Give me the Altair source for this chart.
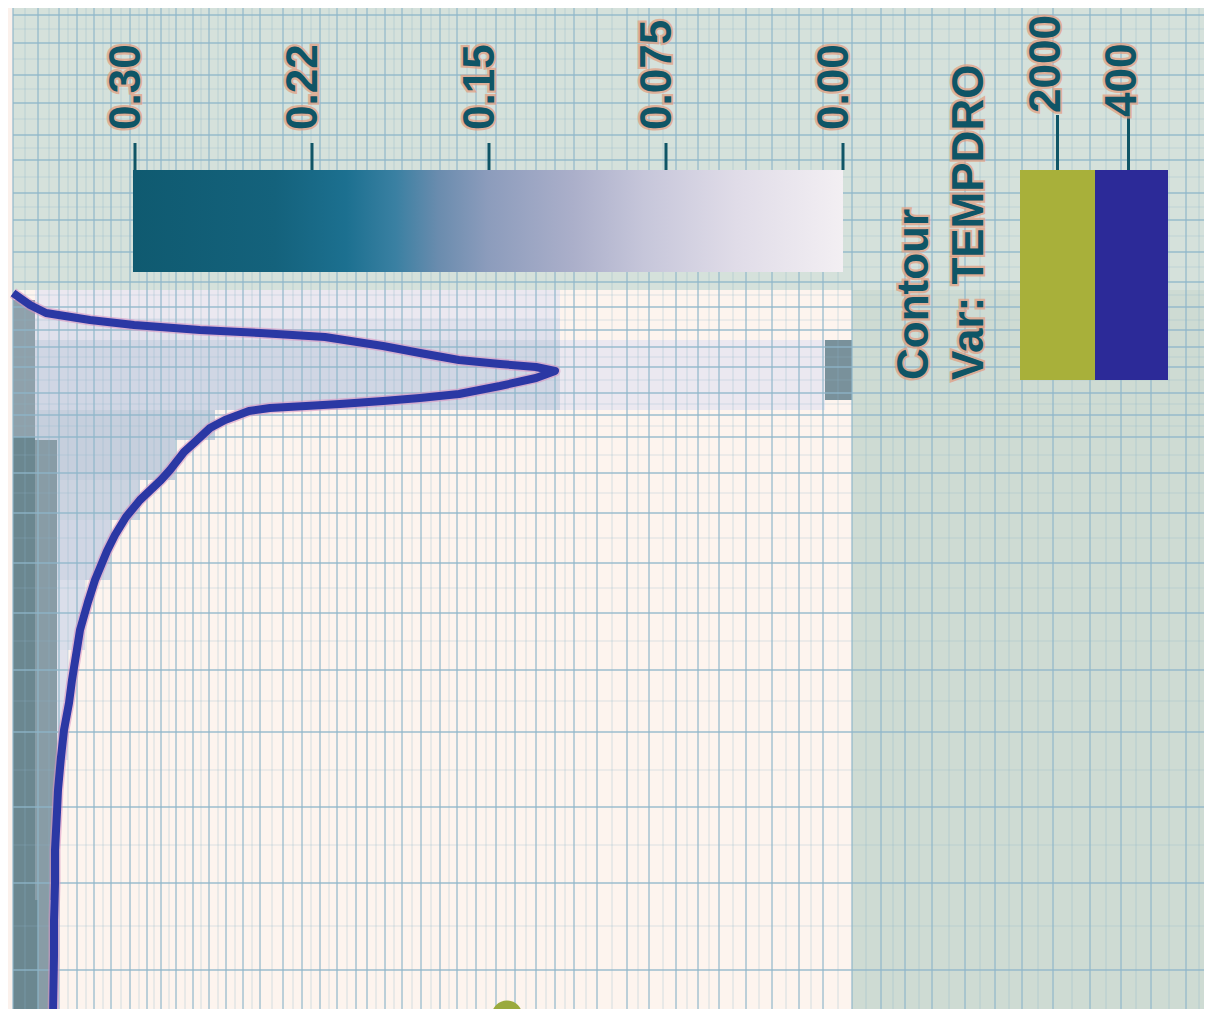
import altair as alt
import pandas as pd

# ---------------- values ----------------
# colour bar (pseudocolour variable), ticks from left to right
cbar_ticks = [0.30, 0.225, 0.15, 0.075, 0.00]
cbar_labels = ["0.30", "0.22", "0.15", "0.075", "0.00"]

# contour legend
contour_title = ["Contour", "Var: TEMPDRO"]
contour_levels = ["2000", "400"]

# TEMPDRO = 400 contour, mesh coordinates (u across, v down)
contour_u = [13, 30, 46, 90, 134, 200, 260, 325, 383, 420, 459, 500, 536, 555,
             536, 500, 459, 420, 383, 340, 306, 270, 249, 225, 210, 195, 184, 170,
             161, 140, 126, 115, 107, 95, 88, 80, 77, 72, 69, 64, 61, 58, 57, 55,
             55, 54, 54, 53]
contour_v = [293, 305, 313, 320, 325, 330, 333, 337, 346, 353, 360, 364, 367, 371,
             378, 386, 394, 398, 401, 404, 406, 408, 411, 420, 428, 442, 452, 470,
             480, 500, 517, 535, 551, 580, 602, 630, 649, 680, 703, 730, 757, 790,
             812, 850, 884, 920, 956, 1017]

# TEMPDRO = 2000 contour fragment
c2000_u = [507]
c2000_v = [1016]

# shaded field cells: extents and pseudocolour value
cell_u0 = [13, 13, 35, 38, 35, 35, 35, 560, 35, 57, 57, 57, 57, 57, 825]
cell_u1 = [35, 38, 57, 50, 560, 560, 560, 825, 215, 175, 140, 110, 85, 68, 852]
cell_v0 = [300, 437, 437, 900, 290, 318, 340, 340, 410, 440, 480, 520, 580, 650, 340]
cell_v1 = [437, 1017, 900, 1017, 318, 340, 410, 410, 440, 480, 520, 580, 650, 760, 400]
cell_val = [0.20, 0.30, 0.22, 0.22, 0.03, 0.05, 0.08, 0.03, 0.10, 0.10, 0.09,
            0.08, 0.06, 0.05, 0.26]

# mesh lines (main and faint sub-lines)
mesh_u = [13, 38, 59, 77, 94, 111, 130, 147, 161, 176, 193, 209, 226, 243, 260,
          283, 302, 320, 337, 356, 367, 385, 402, 421, 440, 457, 476, 496, 515,
          536, 555, 574, 597, 627, 649, 676, 698, 719, 746, 772, 799, 823, 852,
          881, 905, 932, 965, 995, 1022, 1053, 1090, 1121, 1151, 1186]
mesh_u_fine = [25, 49, 68, 86, 103, 121, 139, 154, 169, 185, 201, 218, 235, 252,
               272, 293, 311, 329, 347, 376, 394, 412, 431, 449, 467, 486, 506, 526,
               546, 565, 586, 612, 638, 663, 687, 709, 733, 759, 786, 811, 838, 866,
               893, 919, 949, 980, 1009, 1038, 1072, 1106, 1136, 1169, 1199]
mesh_v = [15, 43, 75, 103, 135, 160, 193, 220, 252, 282, 307, 330, 347, 367, 393,
          415, 437, 473, 513, 563, 613, 670, 732, 807, 883, 970]
mesh_v_fine = [29, 59, 89, 119, 148, 177, 207, 236, 267, 295, 320, 357, 380, 404,
               426, 455, 493, 538, 588, 641, 701, 770, 845, 926]

# ---------------- layout / style ----------------
W, H = 1196, 1001
XS = alt.Scale(domain=[8, 1204], nice=False, zero=False)
YS = alt.Scale(domain=[8, 1009], nice=False, zero=False, reverse=True)
TEAL = "#0f5566"
HALO = "#e39a7c"
FONT = "Liberation Sans"
FS = 44
GRID = "#8db6ca"

CB_L, CB_R, CB_T, CB_B = 133, 843, 170, 272
TICK_TOP = 143
LABEL_BASE = 130
SW_L, SW_M, SW_R, SW_T, SW_B = 1020, 1095, 1168, 170, 380


def X(f):
    return alt.X(f, type="quantitative", scale=XS, axis=None)


def Y(f):
    return alt.Y(f, type="quantitative", scale=YS, axis=None)


# backgrounds
bg = pd.DataFrame({
    "x0": [0, 13, 13, 13], "x1": [1212, 1212, 1212, 852],
    "y0": [0, 3, 290, 290], "y1": [1017, 290, 1017, 1017],
    "part": ["margin", "upper", "lower", "field"],
})
bg_layer = alt.Chart(bg).mark_rect().encode(
    x=X("x0"), x2="x1", y=Y("y0"), y2="y1",
    color=alt.Color("part:N", legend=None,
                    scale=alt.Scale(domain=["margin", "upper", "lower", "field"],
                                    range=["#fbf1ec", "#d5e1db", "#cedbd3", "#fdf4ee"])),
)

cells = pd.DataFrame({"x0": cell_u0, "x1": cell_u1, "y0": cell_v0, "y1": cell_v1,
                      "val": cell_val})
cell_layer = alt.Chart(cells).mark_rect().encode(
    x=X("x0"), x2="x1", y=Y("y0"), y2="y1",
    color=alt.Color("val:Q", legend=None,
                    scale=alt.Scale(domain=[0, 0.03, 0.06, 0.10, 0.20, 0.30],
                                    range=["#fcf3ee", "#ebe8f0", "#dadeea", "#c6cfdd",
                                           "#8fa1ab", "#6b8790"])),
)

vlines = pd.DataFrame({"u": mesh_u, "y0": [0] * len(mesh_u), "y1": [1017] * len(mesh_u)})
hlines = pd.DataFrame({"v": mesh_v, "x0": [13] * len(mesh_v), "x1": [1212] * len(mesh_v)})
vlines_f = pd.DataFrame({"u": mesh_u_fine, "y0": [0] * len(mesh_u_fine),
                         "y1": [1017] * len(mesh_u_fine)})
hlines_f = pd.DataFrame({"v": mesh_v_fine, "x0": [13] * len(mesh_v_fine),
                         "x1": [1212] * len(mesh_v_fine)})
vgrid_f = alt.Chart(vlines_f).mark_rule(color=GRID, strokeWidth=1.2, opacity=0.3).encode(
    x=X("u"), y=Y("y0"), y2="y1")
hgrid_f = alt.Chart(hlines_f).mark_rule(color=GRID, strokeWidth=1.2, opacity=0.3).encode(
    y=Y("v"), x=X("x0"), x2="x1")
vgrid = alt.Chart(vlines).mark_rule(color=GRID, strokeWidth=1.8, opacity=0.65).encode(
    x=X("u"), y=Y("y0"), y2="y1")
hgrid = alt.Chart(hlines).mark_rule(color=GRID, strokeWidth=1.8, opacity=0.65).encode(
    y=Y("v"), x=X("x0"), x2="x1")

# colour bar
stops = [(0.0, "#0f5a70"), (0.2, "#14627c"), (0.3, "#1c7090"), (0.37, "#3a80a2"),
         (0.43, "#6a8cae"), (0.5, "#8c9cbc"), (0.62, "#abafca"), (0.72, "#c6c6da"),
         (0.85, "#e0dce8"), (1.0, "#f3eff3")]
grad = alt.LinearGradient(gradient="linear",
                          stops=[alt.GradientStop(color=c, offset=o) for o, c in stops],
                          x1=0, x2=1, y1=0, y2=0)
cbar = alt.Chart(pd.DataFrame({"x0": [CB_L], "x1": [CB_R], "y0": [CB_T], "y1": [CB_B]})
                 ).mark_rect(fill=grad).encode(x=X("x0"), x2="x1", y=Y("y0"), y2="y1")

tick_x = [CB_L + 2 + (0.30 - t) / 0.30 * (CB_R - CB_L - 2) for t in cbar_ticks]
cb_ticks = pd.DataFrame({"x": tick_x, "y0": [TICK_TOP] * 5, "y1": [CB_T] * 5})
cb_tick_layer = alt.Chart(cb_ticks).mark_rule(color=TEAL, strokeWidth=3).encode(
    x=X("x"), y=Y("y0"), y2="y1")

# contour legend swatches
sw = pd.DataFrame({"x0": [SW_L, SW_M], "x1": [SW_M, SW_R], "y0": [SW_T] * 2,
                   "y1": [SW_B] * 2, "level": contour_levels})
sw_layer = alt.Chart(sw).mark_rect().encode(
    x=X("x0"), x2="x1", y=Y("y0"), y2="y1",
    color=alt.Color("level:N", legend=None,
                    scale=alt.Scale(domain=contour_levels, range=["#a8b03a", "#2c2a98"])),
)
sw_ticks = pd.DataFrame({"x": [(SW_L + SW_M) / 2, (SW_M + SW_R) / 2 - 3],
                         "y0": [115, 115], "y1": [SW_T, SW_T]})
sw_tick_layer = alt.Chart(sw_ticks).mark_rule(color=TEAL, strokeWidth=3).encode(
    x=X("x"), y=Y("y0"), y2="y1")

# contour line
cont = pd.DataFrame({"u": contour_u, "v": contour_v, "i": list(range(len(contour_u)))})
cont_under = alt.Chart(cont).mark_line(color="#d890c0", strokeWidth=11, opacity=0.55,
                                       strokeJoin="round").encode(
    x=X("u"), y=Y("v"), order="i:Q")
cont_line = alt.Chart(cont).mark_line(color="#2b38a4", strokeWidth=8,
                                      strokeJoin="round").encode(
    x=X("u"), y=Y("v"), order="i:Q")

dot = alt.Chart(pd.DataFrame({"u": c2000_u, "v": c2000_v})).mark_circle(
    size=950, color="#9aaa3e", opacity=1, clip=True).encode(x=X("u"), y=Y("v"))

# texts
txt = pd.DataFrame({
    "x": [t - 8 for t in tick_x] + [915, 970, (SW_L + SW_M) / 2 - 11, (SW_M + SW_R) / 2 - 9],
    "y": [LABEL_BASE] * 5 + [380, 380, 113, 117],
    "label": cbar_labels + contour_title + contour_levels,
})
text_kw = dict(angle=270, align="left", baseline="middle", font=FONT,
               fontWeight="bold", fontSize=FS)
halo = alt.Chart(txt).mark_text(stroke=HALO, strokeWidth=4.5, strokeOpacity=0.7,
                                color=HALO, **text_kw).encode(
    x=X("x"), y=Y("y"), text="label:N")
label = alt.Chart(txt).mark_text(color=TEAL, **text_kw).encode(
    x=X("x"), y=Y("y"), text="label:N")

chart = alt.layer(
    bg_layer, cell_layer, vgrid_f, hgrid_f, vgrid, hgrid, cbar, cb_tick_layer,
    sw_layer, sw_tick_layer, cont_under, cont_line, dot, halo, label,
).properties(
    width=W, height=H, padding=0,
    autosize=alt.AutoSizeParams(type="none"),
).configure_view(stroke=None)

chart.save("out.html", embed_options={"renderer": "svg", "actions": False})
